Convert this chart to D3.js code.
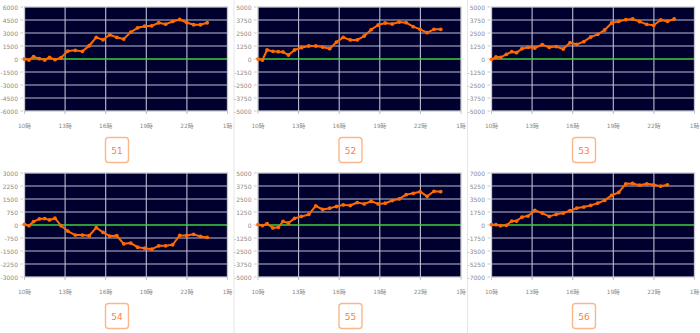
<!DOCTYPE html>
<html>
<head>
<meta charset="utf-8">
<script src="https://cdn.jsdelivr.net/npm/d3@7"></script>
<style>
  html, body { margin: 0; padding: 0; background: #fff; }
  svg { display: block; }
  .ylab { font-family: "DejaVu Sans", Verdana, sans-serif; font-size: 6px; fill: #8a8a8a; }
  .xlab { font-family: "DejaVu Sans", "Noto Sans CJK JP", sans-serif; font-size: 5.8px; fill: #8a8a8a; }
  .num { font-family: "DejaVu Sans", Verdana, sans-serif; font-size: 9px; fill: #f7843f; }
</style>
</head>
<body>
<svg id="chart" width="700" height="333"></svg>
<script>
// Machine numbers, one small chart each
const machineIds = ["51", "52", "53", "54", "55", "56"];

// Sample times (hours since midnight; 25 = 1時 next day)
const sampleHours = [10.0, 10.33, 10.67, 11.1, 11.5, 11.85, 12.25, 12.7, 13.2, 13.75,
  14.27, 14.78, 15.3, 15.8, 16.3, 16.82, 17.33, 17.85, 18.36, 18.88,
  19.4, 19.92, 20.43, 20.95, 21.47, 21.98, 22.5, 23.0, 23.5];

// X axis ticks
const xTickHours = [10, 13, 16, 19, 22, 25];
const xTickLabels = ["10時", "13時", "16時", "19時", "22時", "1時"];

// Y axis range (symmetric) for each machine
const yLimits = [6000, 5000, 5000, 3000, 5000, 7000];

// Running difference per machine
const diff51 = [0, -115, 270, 40, -115, 190, -75, 150, 920, 1000, 880, 1530, 2490, 2220, 2800,
  2490, 2300, 3100, 3600, 3790, 3830, 4180, 4020, 4330, 4560, 4210, 3950, 3950, 4180];
const diff52 = [0, -100, 865, 740, 705, 673, 385, 865, 1090, 1250, 1250, 1150, 990, 1630, 2080,
  1830, 1830, 2210, 2820, 3270, 3460, 3365, 3560, 3490, 3110, 2850, 2530, 2850, 2850];
const diff53 = [-30, 190, 160, 450, 705, 610, 990, 1120, 1060, 1380, 1120, 1190, 960, 1570, 1410,
  1670, 2115, 2370, 2790, 3460, 3620, 3780, 3845, 3590, 3330, 3240, 3750, 3620, 3845];
const diff54 = [40, -40, 195, 350, 370, 290, 390, -40, -350, -580, -580, -620, -155, -425, -640,
  -620, -1085, -1045, -1280, -1335, -1395, -1200, -1200, -1140, -600, -600, -540, -660, -715];
const diff55 = [30, -60, 130, -285, -220, 350, 190, 635, 825, 1015, 1840, 1490, 1620, 1780, 1935,
  1875, 2160, 2030, 2285, 2030, 2095, 2350, 2510, 2920, 3050, 3205, 2760, 3240, 3205];
const diff56 = [45, 45, -90, -45, 535, 535, 1070, 1205, 1965, 1610, 1160, 1430, 1610, 1920, 2280,
  2415, 2640, 2950, 3310, 3980, 4380, 5540, 5590, 5365, 5540, 5410, 5230, 5410];

const allSeries = [diff51, diff52, diff53, diff54, diff55, diff56];

// Layout
const colX = [0, 233.5, 467];
const rowY = [0, 166];
const plotLeft = 24.5, plotW = 203, plotTop = 7, plotH = 104;
const colW = 234;

const svg = d3.select("#chart");

// Column separators
[colX[1], colX[2]].forEach(x => {
  svg.append("line")
    .attr("x1", x + 0.5).attr("x2", x + 0.5)
    .attr("y1", 0).attr("y2", 333)
    .attr("stroke", "#e6e6e6").attr("stroke-width", 1);
});

machineIds.forEach((id, i) => {
  const col = i % 3, row = Math.floor(i / 3);
  const g = svg.append("g").attr("transform", `translate(${colX[col]},${rowY[row]})`);
  const lim = yLimits[i];
  const values = allSeries[i];

  const x = d3.scaleLinear().domain([10, 25]).range([plotLeft, plotLeft + plotW]);
  const y = d3.scaleLinear().domain([-lim, lim]).range([plotTop + plotH, plotTop]);
  const yTicks = d3.range(-4, 5).map(k => k * lim / 4);

  // Plot background
  g.append("rect")
    .attr("x", plotLeft).attr("y", plotTop)
    .attr("width", plotW).attr("height", plotH)
    .attr("fill", "#00002f");

  // Grid
  g.selectAll("line.hgrid").data(yTicks.filter(v => v !== 0 && Math.abs(v) !== lim))
    .join("line").attr("class", "hgrid")
    .attr("x1", plotLeft).attr("x2", plotLeft + plotW)
    .attr("y1", d => y(d)).attr("y2", d => y(d))
    .attr("stroke", "#bcbcd2").attr("stroke-width", 1.1);
  g.selectAll("line.vgrid").data(xTickHours.slice(1, -1))
    .join("line").attr("class", "vgrid")
    .attr("x1", d => x(d)).attr("x2", d => x(d))
    .attr("y1", plotTop).attr("y2", plotTop + plotH + 3)
    .attr("stroke", "#bcbcd2").attr("stroke-width", 1.1);

  // Zero line
  g.append("line")
    .attr("x1", plotLeft).attr("x2", plotLeft + plotW)
    .attr("y1", y(0)).attr("y2", y(0))
    .attr("stroke", "#3fcf3a").attr("stroke-width", 1.5);

  // Plot frame
  g.append("rect")
    .attr("x", plotLeft).attr("y", plotTop)
    .attr("width", plotW).attr("height", plotH)
    .attr("fill", "none").attr("stroke", "#c8c8d0").attr("stroke-width", 1.3);

  // Y axis ticks and labels
  g.selectAll("line.ytick").data(yTicks).join("line").attr("class", "ytick")
    .attr("x1", plotLeft - 4).attr("x2", plotLeft - 1.5)
    .attr("y1", d => y(d)).attr("y2", d => y(d))
    .attr("stroke", "#bbbbbb").attr("stroke-width", 0.8);
  g.selectAll("text.ylab").data(yTicks).join("text").attr("class", "ylab")
    .attr("x", plotLeft - 6.5).attr("y", d => y(d))
    .attr("text-anchor", "end").attr("dominant-baseline", "central")
    .text(d => d);

  // X axis edge ticks and labels
  g.selectAll("line.xtick").data([xTickHours[0], xTickHours[xTickHours.length - 1]])
    .join("line").attr("class", "xtick")
    .attr("x1", d => x(d)).attr("x2", d => x(d))
    .attr("y1", plotTop + plotH).attr("y2", plotTop + plotH + 3)
    .attr("stroke", "#c8c8d0").attr("stroke-width", 1);
  g.selectAll("text.xlab").data(xTickHours).join("text").attr("class", "xlab")
    .attr("x", d => x(d)).attr("y", plotTop + plotH + 17)
    .attr("text-anchor", "middle")
    .text((d, k) => xTickLabels[k]);

  // Difference line with markers
  const pts = values.map((v, k) => [sampleHours[k], v]);
  g.append("path").datum(pts)
    .attr("fill", "none").attr("stroke", "#ff6a00").attr("stroke-width", 2)
    .attr("stroke-linejoin", "round")
    .attr("d", d3.line().x(d => x(d[0])).y(d => y(d[1])));
  g.selectAll("circle.pt").data(pts).join("circle").attr("class", "pt")
    .attr("cx", d => x(d[0])).attr("cy", d => y(d[1])).attr("r", 1.9)
    .attr("fill", "#ff6a00");

  // Machine number badge
  const cx = colW / 2;
  g.append("rect")
    .attr("x", cx - 11.5).attr("y", 137.5)
    .attr("width", 23).attr("height", 25).attr("rx", 3)
    .attr("fill", "#fff").attr("stroke", "#fbb78c").attr("stroke-width", 1.4);
  g.append("text").attr("class", "num")
    .attr("x", cx).attr("y", 150.5)
    .attr("text-anchor", "middle").attr("dominant-baseline", "central")
    .text(id);
});
</script>
</body>
</html>
